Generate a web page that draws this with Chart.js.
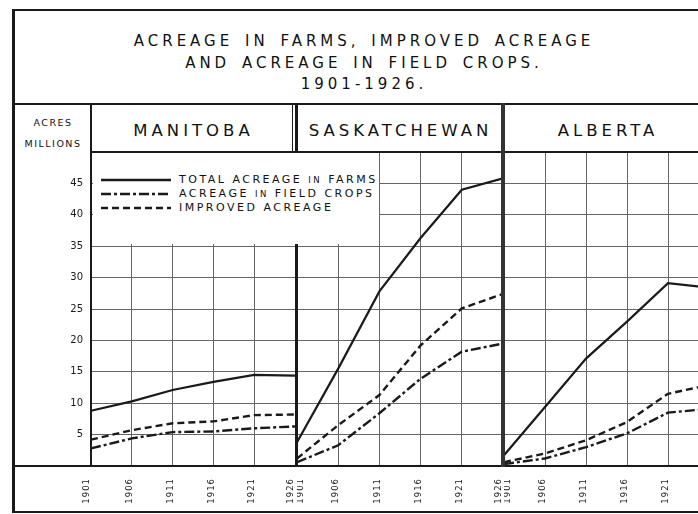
<!DOCTYPE html>
<html lang="en">
<head>
<meta charset="utf-8">
<script src="https://cdn.jsdelivr.net/npm/chart.js@4.4.1/dist/chart.umd.min.js"></script>
<style>
  html, body { margin: 0; padding: 0; background: #fff; overflow: hidden; }
  .page {
    position: relative;
    width: 698px;
    height: 514px;
    overflow: hidden;
    font-family: 'DejaVu Sans', sans-serif;
    color: #111;
  }
  .ln { position: absolute; background: #1a1a1a; z-index: 2; }
  .title {
    position: absolute;
    left: 14px; top: 31px; width: 700px;
    text-align: center;
    font-size: 15px;
    line-height: 21.5px;
    letter-spacing: 4px;
    word-spacing: 3px;
  }
  .units {
    position: absolute;
    left: 15px; top: 112px; width: 76px;
    text-align: center;
    font-size: 9.5px;
    line-height: 21px;
    letter-spacing: 1.5px;
  }
  .prov {
    position: absolute;
    top: 105px; height: 46px;
    line-height: 52px;
    text-align: center;
    font-size: 16.5px;
    letter-spacing: 4px;
  }
  .box { position: absolute; }
  .legend {
    position: absolute;
    left: 93px; top: 153px; width: 286px; height: 91px;
    background: #fff;
    z-index: 3;
  }
  .legend .row {
    position: absolute;
    left: 8px;
    height: 14px;
    line-height: 14px;
    font-size: 11px;
    letter-spacing: 2.5px;
    white-space: nowrap;
  }
  .legend svg { vertical-align: middle; margin-right: 8px; }
  .legend small { font-size: 8.5px; }
</style>
</head>
<body>
<div class="page">
  <div class="title">ACREAGE IN FARMS, IMPROVED ACREAGE<br>AND ACREAGE IN FIELD CROPS.<br>1901-1926.</div>

  <div class="units">ACRES<br>MILLIONS</div>
  <div class="prov" style="left:92px;width:203px;">MANITOBA</div>
  <div class="prov" style="left:299px;width:203px;">SASKATCHEWAN</div>
  <div class="prov" style="left:506px;width:204px;">ALBERTA</div>

  <div class="box" style="left:14px;top:152px;"><canvas id="man" width="281" height="360"></canvas></div>
  <div class="box" style="left:297px;top:152px;"><canvas id="sask" width="206" height="360"></canvas></div>
  <div class="box" style="left:504px;top:152px;"><canvas id="alb" width="205" height="360"></canvas></div>

  <!-- frame -->
  <div class="ln" style="left:12px;top:9px;width:700px;height:2px;"></div>
  <div class="ln" style="left:12px;top:9px;width:3px;height:504px;"></div>
  <div class="ln" style="left:12px;top:103px;width:700px;height:2px;"></div>
  <div class="ln" style="left:12px;top:511px;width:700px;height:2px;"></div>
  <div class="ln" style="left:12px;top:465px;width:700px;height:2px;"></div>
  <div class="ln" style="left:90px;top:103px;width:2px;height:364px;"></div>
  <div class="ln" style="left:91px;top:151px;width:620px;height:2px;"></div>
  <div class="ln" style="left:292px;top:103px;width:1px;height:49px;"></div>
  <div class="ln" style="left:295px;top:103px;width:3px;height:364px;"></div>
  <div class="ln" style="left:501px;top:103px;width:4px;height:364px;background:#333;"></div>

  <div class="legend">
    <div class="row" style="top:20px;">
      <svg width="70" height="6"><line x1="0" y1="3" x2="70" y2="3" stroke="#1a1a1a" stroke-width="2.4"/></svg>TOTAL ACREAGE <small>IN</small> FARMS
    </div>
    <div class="row" style="top:34px;">
      <svg width="70" height="6"><line x1="0" y1="3" x2="70" y2="3" stroke="#1a1a1a" stroke-width="2.4" stroke-dasharray="10 3 3 3"/></svg>ACREAGE <small>IN</small> FIELD CROPS
    </div>
    <div class="row" style="top:48px;">
      <svg width="70" height="6"><line x1="0" y1="3" x2="70" y2="3" stroke="#1a1a1a" stroke-width="2.4" stroke-dasharray="7 4"/></svg>IMPROVED ACREAGE
    </div>
  </div>
</div>

<script>
  const years = ['1901', '1906', '1911', '1916', '1921', '1926'];

  // millions of acres
  const manTotal    = [8.8, 10.3, 12.1, 13.4, 14.5, 14.4];
  const manImproved = [4.2, 5.7, 6.8, 7.1, 8.1, 8.2];
  const manField    = [2.8, 4.4, 5.4, 5.5, 6.0, 6.3];

  const saskTotal    = [3.8, 15.5, 27.8, 36.3, 44.0, 45.8];
  const saskImproved = [1.2, 6.5, 11.3, 19.2, 25.1, 27.4];
  const saskField    = [0.6, 3.3, 8.4, 13.9, 18.2, 19.5];

  const albTotal    = [1.7, 9.4, 17.1, 23.0, 29.1, 28.4];
  const albImproved = [0.6, 2.0, 4.1, 7.0, 11.5, 12.9];
  const albField    = [0.3, 1.2, 3.0, 5.2, 8.5, 9.1];

  const ink = '#1a1a1a';
  const gridInk = '#666';

  // rotated year labels, nudged apart at the panel joins
  const yearLabels = {
    id: 'yearLabels',
    afterDraw(chart, args, opts) {
      const sx = chart.scales.x, ctx = chart.ctx, n = sx.ticks.length;
      ctx.save();
      ctx.font = '8.5px "DejaVu Sans"';
      ctx.letterSpacing = '1px';
      ctx.fillStyle = ink;
      ctx.textAlign = 'right';
      ctx.textBaseline = 'middle';
      sx.ticks.forEach((t, i) => {
        const nudge = i === 0 ? opts.first : (i === n - 1 ? -4 : -2);
        ctx.save();
        ctx.translate(sx.getPixelForTick(i) + nudge, chart.chartArea.bottom + 12);
        ctx.rotate(-Math.PI / 2);
        ctx.fillText(t.label, 0, 0);
        ctx.restore();
      });
      ctx.restore();
    }
  };

  function panel(id, total, improved, field, showY, first) {
    return new Chart(document.getElementById(id), {
      type: 'line',
      data: {
        labels: years,
        datasets: [
          { label: 'Total acreage in farms', data: total, borderColor: ink, borderWidth: 2.2 },
          { label: 'Acreage in field crops', data: field, borderColor: ink, borderWidth: 2.4, borderDash: [10, 3, 3, 3] },
          { label: 'Improved acreage', data: improved, borderColor: ink, borderWidth: 2.4, borderDash: [7, 4] }
        ]
      },
      options: {
        responsive: false,
        animation: false,
        events: [],
        elements: { point: { radius: 0 }, line: { tension: 0, borderCapStyle: 'butt' } },
        plugins: {
          legend: { display: false },
          tooltip: { enabled: false },
          yearLabels: { first: first }
        },
        scales: {
          x: {
            offset: false,
            grid: { color: gridInk, lineWidth: 1, drawTicks: false },
            border: { display: false },
            ticks: { display: false },
            afterFit: s => { s.height = 46; s.paddingLeft = 0; s.paddingRight = 0; }
          },
          y: {
            min: 0,
            max: 50,
            grid: { color: gridInk, lineWidth: 1, drawTicks: false },
            border: { display: false },
            ticks: {
              display: showY,
              stepSize: 5,
              padding: 8,
              color: ink,
              font: { family: 'DejaVu Sans', size: 10 },
              callback: v => (v === 0 || v === 50) ? '' : v
            },
            afterFit: s => { s.width = showY ? 77 : 0; s.paddingTop = 0; s.paddingBottom = 0; }
          }
        }
      },
      plugins: [yearLabels]
    });
  }

  panel('man', manTotal, manImproved, manField, true, -4);
  panel('sask', saskTotal, saskImproved, saskField, false, 4);
  panel('alb', albTotal, albImproved, albField, false, 4);
</script>
</body>
</html>
